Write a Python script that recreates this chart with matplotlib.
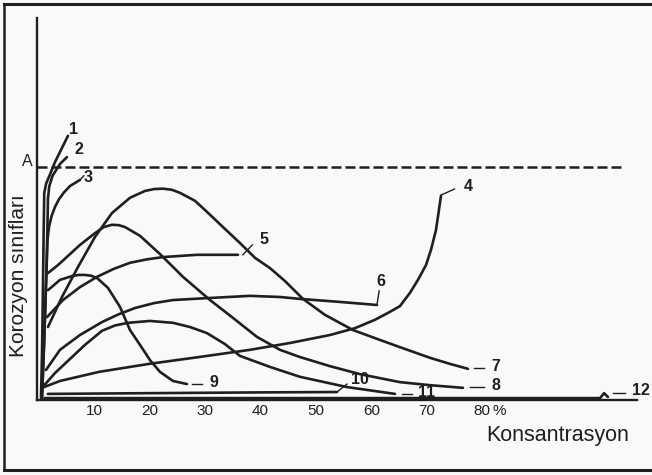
import numpy as np
import matplotlib
matplotlib.use("Agg")
import matplotlib.pyplot as plt
from matplotlib.lines import Line2D

plt.rcParams['font.family'] = ['Liberation Sans', 'DejaVu Sans']

# Concentration (%) and corrosion class values for each curve
c1_x = [0.36, 0.54, 0.72, 0.85, 0.95, 1.30, 1.90, 2.89, 3.97, 5.23]
c1_y = [0.05, 1.20, 3.00, 4.50, 5.45, 5.70, 5.90, 6.26, 6.58, 6.95]
c2_x = [0.54, 0.90, 1.35, 1.53, 1.62, 1.85, 2.45, 3.79, 5.05]
c2_y = [0.05, 1.40, 3.40, 4.60, 5.30, 5.62, 5.90, 6.21, 6.39]
c3_x = [0.54, 0.90, 1.35, 1.53, 1.80, 2.30, 2.89, 3.60, 4.50, 5.60, 7.40]
c3_y = [0.05, 1.40, 3.40, 4.20, 4.55, 4.85, 5.08, 5.28, 5.46, 5.63, 5.79]
c4_x = [0.54, 3.79, 10.83, 19.86, 28.88, 38.09, 45.31, 52.53, 57.04, 60.65,
        63.36, 65.16, 66.97, 68.41, 69.86, 70.76, 71.66, 72.20, 72.56]
c4_y = [0.32, 0.50, 0.74, 0.95, 1.13, 1.32, 1.50, 1.71, 1.89, 2.11,
        2.32, 2.47, 2.82, 3.16, 3.55, 3.95, 4.47, 5.00, 5.37]
c5_x = [1.44, 4.33, 7.40, 10.47, 13.5, 16.43, 19.5, 22.38, 28.52, 35.92]
c5_y = [2.18, 2.63, 2.97, 3.24, 3.45, 3.61, 3.70, 3.76, 3.82, 3.82]
c6_x = [1.26, 3.79, 7.40, 11.37, 14.3, 17.33, 20.8, 24.19, 30.32, 38.09, 43.50, 47.11, 54.33, 61.01]
c6_y = [0.79, 1.32, 1.71, 2.05, 2.25, 2.42, 2.55, 2.63, 2.68, 2.74, 2.71, 2.66, 2.58, 2.50]
c7_x = [1.62, 4.15, 7.04, 10.11, 13.18, 16.43, 19.13, 20.8, 22.38, 24.0, 25.45, 28.16, 30.32, 33.21,
        36.28, 38.99, 41.70, 44.40, 47.65, 51.62, 56.68, 61.55, 65.16, 70.58, 74.19, 77.44]
c7_y = [1.92, 2.71, 3.50, 4.29, 4.92, 5.32, 5.50, 5.55, 5.56, 5.53, 5.45, 5.24, 4.95, 4.55,
        4.13, 3.74, 3.47, 3.13, 2.66, 2.24, 1.84, 1.58, 1.39, 1.11, 0.95, 0.82]
c8_x = [1.62, 3.43, 5.23, 7.40, 10.11, 11.7, 13.18, 14.4, 15.52, 18.23, 21.84, 25.99,
        30.87, 35.02, 39.35, 43.50, 47.11, 52.53, 57.94, 65.16, 70.58, 76.53]
c8_y = [3.34, 3.55, 3.79, 4.08, 4.39, 4.55, 4.61, 4.60, 4.55, 4.32, 3.84, 3.24,
        2.63, 2.16, 1.66, 1.32, 1.13, 0.89, 0.68, 0.47, 0.39, 0.32]
c9_x = [1.62, 3.79, 5.96, 7.1, 8.30, 9.4, 10.47, 12.45, 14.62, 16.43, 18.23, 20.04, 21.84, 24.19, 26.71]
c9_y = [2.89, 3.16, 3.26, 3.29, 3.29, 3.27, 3.21, 2.95, 2.45, 1.84, 1.45, 1.05, 0.74, 0.50, 0.42]
c10_x = [1.6, 20.0, 40.0, 53.8]
c10_y = [0.16, 0.18, 0.20, 0.21]
c11_x = [0.54, 2.89, 5.23, 8.30, 11.37, 13.7, 16.06, 20.04, 24.19, 27.26, 30.32,
         33.57, 36.28, 41.70, 47.11, 55.60, 64.26]
c11_y = [0.32, 0.71, 1.03, 1.45, 1.82, 1.96, 2.03, 2.08, 2.03, 1.92, 1.76,
         1.47, 1.16, 0.87, 0.61, 0.34, 0.16]
c12_x = [1.0, 50.0, 101.3, 102.0, 102.7]
c12_y = [0.05, 0.05, 0.05, 0.18, 0.08]

level_a = 6.13
x_ticks = [10, 20, 30, 40, 50, 60, 70, 80]
x_ticklabels = ["10", "20", "30", "40", "50", "60", "70", "80"]

curves = [(c1_x, c1_y), (c2_x, c2_y), (c3_x, c3_y), (c4_x, c4_y),
          (c5_x, c5_y), (c6_x, c6_y), (c7_x, c7_y), (c8_x, c8_y),
          (c9_x, c9_y), (c10_x, c10_y), (c11_x, c11_y), (c12_x, c12_y)]

ink = '#1f1f1f'
fig = plt.figure(figsize=(6.52, 4.75), dpi=100, facecolor='#f9f9f7')
ax = fig.add_axes([37 / 652, 75 / 475, 600 / 652, 382 / 475])
ax.set_facecolor('#f9f9f7')
ax.set_xlim(-0.36, 107.95)
ax.set_ylim(0, 10.05)

for cx, cy in curves:
    ax.plot(cx, cy, color=ink, lw=1.9, solid_capstyle='round',
            solid_joinstyle='round', clip_on=False)

# limit line A
ax.plot([-0.36, 105.4], [level_a, level_a], color=ink, lw=1.8, dashes=(4, 1.6))
ax.text(-2.2, level_a + 0.15, "A", fontsize=11.5, color=ink, ha='center',
        va='center')

# curve numbers with their leader strokes
lbl = dict(fontsize=11.5, color=ink, ha='center', va='center', fontweight='bold')
leaders = [([72.56, 75.0], [5.39, 5.55]),
           ([36.8, 38.5], [3.82, 4.08]),
           ([61.0, 61.4], [2.50, 2.87]),
           ([78.5, 80.3], [0.84, 0.84]),
           ([77.8, 80.3], [0.34, 0.34]),
           ([27.6, 29.4], [0.42, 0.42]),
           ([53.8, 55.6], [0.21, 0.42]),
           ([65.5, 67.3], [0.16, 0.16]),
           ([103.6, 105.8], [0.18, 0.18]),
           ([7.4, 8.1], [5.79, 5.90])]
for lx, ly in leaders:
    ax.plot(lx, ly, color=ink, lw=1.0, clip_on=False)

ax.text(6.2, 7.12, "1", **lbl)
ax.text(7.2, 6.58, "2", **lbl)
ax.text(8.9, 5.86, "3", **lbl)
ax.text(77.4, 5.61, "4", **lbl)
ax.text(40.6, 4.21, "5", **lbl)
ax.text(61.8, 3.13, "6", **lbl)
ax.text(82.4, 0.87, "7", **lbl)
ax.text(82.4, 0.37, "8", **lbl)
ax.text(31.5, 0.45, "9", **lbl)
ax.text(58.0, 0.55, "10", **lbl)
ax.text(69.9, 0.21, "11", **lbl)
ax.text(108.6, 0.24, "12", clip_on=False, **lbl)

for side in ('top', 'right'):
    ax.spines[side].set_visible(False)
for side in ('left', 'bottom'):
    ax.spines[side].set_linewidth(1.7)
    ax.spines[side].set_color(ink)

ax.set_yticks([])
ax.set_xticks(x_ticks)
ax.set_xticklabels(x_ticklabels)
ax.tick_params(axis='x', length=0, pad=3, labelsize=11, labelcolor=ink)
ax.text(83.0, -0.29, "%", fontsize=11, color=ink, ha='center', va='center')

fig.text(19 / 652, 1 - 276 / 475, "Korozyon sınıfları", rotation=90,
         fontsize=15, color=ink, ha='center', va='center')
fig.text(558 / 652, 1 - 435 / 475, "Konsantrasyon", fontsize=15.5, color=ink,
         ha='center', va='center')

# outer frame
fig.add_artist(Line2D([4 / 652, 1.0], [1 - 4 / 475, 1 - 4 / 475],
                      color=ink, lw=2.2, transform=fig.transFigure))
fig.add_artist(Line2D([4 / 652, 4 / 652], [1 - 4 / 475, 1 - 470 / 475],
                      color=ink, lw=1.8, transform=fig.transFigure))
fig.add_artist(Line2D([4 / 652, 1.0], [1 - 470 / 475, 1 - 470 / 475],
                      color=ink, lw=2.2, transform=fig.transFigure))

fig.savefig("out.png", dpi=100, facecolor=fig.get_facecolor())
